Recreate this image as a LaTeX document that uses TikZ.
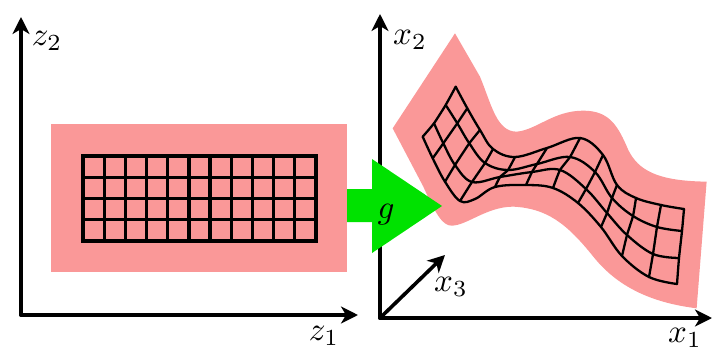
\documentclass[tikz,border=0pt]{standalone}
\usetikzlibrary{arrows.meta}
\definecolor{pinkfill}{RGB}{250,152,152}
\definecolor{arrowgreen}{RGB}{0,226,0}
\tikzset{
  axis/.style={line width=3.6pt,-{Stealth[length=17pt,width=17pt,inset=5pt]},line cap=round},
  lbl/.style={inner sep=0pt},
  gridline/.style={line width=3.3pt,black},
  wgrid/.style={line width=2.3pt,black,line join=round,line cap=round},
}
\newcommand{\rowline}[1]{\draw[wgrid] plot[smooth,tension=0.6] coordinates {#1};}
\newcommand{\colline}[1]{\draw[wgrid] plot[smooth,tension=0.3] coordinates {#1};}
\newcommand{\lmath}[1]{\scalebox{3.3}{$#1$}}
\begin{document}
\begin{tikzpicture}[x=1pt,y=-1pt]
\useasboundingbox (0,0) rectangle (712,351);
% left panel
\fill[pinkfill] (51,124) rectangle (347,272);
\draw[gridline] (83,156) rectangle (316,241);
\foreach \i in {1,...,10} \draw[gridline] ({83+\i*233/11},156) -- ({83+\i*233/11},241);
\foreach \j in {1,2,3} \draw[gridline] (83,{156+\j*85/4}) -- (316,{156+\j*85/4});
\coordinate (zo) at (21,315);
\coordinate (zy) at (21,17);
\coordinate (zx) at (358,315);
\draw[axis] (zo) -- (zy);
\draw[axis] (zo) -- (zx);
\node[lbl] (zt) at (47,41) {\lmath{z_2}};
\node[lbl] (zb) at (324,336) {\lmath{z_1}};
% right panel axes
\coordinate (xo) at (380,318);
\coordinate (xy) at (380,14);
\coordinate (xx) at (712,318);
\coordinate (xz) at (445,255);
\draw[axis] (xo) -- (xy);
\draw[axis] (xo) -- (xx);
\draw[axis] (xo) -- (xz);
\node[lbl] (xt) at (410,40) {\lmath{x_2}};
\node[lbl] (xr) at (685,338) {\lmath{x_1}};
\node[lbl] (xd) at (451,287) {\lmath{x_3}};
% manifold
\begin{scope}[x=0.3333pt,y=-0.3333pt,shift={(380pt,-20pt)}]
\fill[pinkfill] (225,40) -- (300,170)
  .. controls (335,255) and (350,335) .. (410,335)
  .. controls (470,330) and (520,272) .. (610,272)
  .. controls (690,272) and (715,320) .. (745,390)
  .. controls (775,450) and (830,483) .. (980,485)
  -- (950,865)
  .. controls (830,850) and (720,810) .. (640,710)
  .. controls (560,610) and (500,565) .. (400,560)
  .. controls (320,560) and (260,617) .. (215,617)
  .. controls (190,617) and (170,590) .. (130,500)
  -- (38,325) -- cycle;
\end{scope}
% warped grid: four long curves
\rowline{(455.7,86.7) (467.3,108.3) (480,130) (493,149) (515,157) (547,148) (580,138) (603,155) (617,185) (636,198) (661,205) (684,209)}
\rowline{(445.7,105) (457.3,123.3) (469.3,143.3) (485,163) (508,170) (537,164) (570,157) (595,172) (612,198) (633,216) (657,227) (682,231)}
\rowline{(434,123.3) (443.3,143.3) (455,165) (472,182) (500,177) (532,172) (560,170) (586,189) (607,213) (627,235) (653,254) (679,258)}
\rowline{(422.7,136.7) (432.7,158.3) (445,181.7) (460,201) (475,199) (495,187) (526,185) (553,188) (578,203) (601,227) (622,256) (649,277) (677,284)}
% warped grid: twelve cross curves
\colline{(455.7,86.7) (445.7,105) (434,123.3) (422.7,136.7)}
\colline{(467.3,108.3) (457.3,123.3) (443.3,143.3) (432.7,158.3)}
\colline{(480,130) (469.3,143.3) (455,165) (445,181.7)}
\colline{(493,149) (485,163) (472,182) (460,201)}
\colline{(515,157) (508,170) (500,177) (495,187)}
\colline{(547,148) (537,164) (532,172) (526,185)}
\colline{(580,138) (570,157) (560,170) (553,188)}
\colline{(603,155) (595,172) (586,189) (578,203)}
\colline{(617,185) (612,198) (607,213) (601,227)}
\colline{(636,198) (633,216) (627,235) (622,256)}
\colline{(661,205) (657,227) (653,254) (649,277)}
\colline{(684,209) (682,231) (679,258) (677,284)}
% green arrow
\fill[arrowgreen] (347,189) -- (372,189) -- (372,159) -- (442,206) -- (372,253) -- (372,222) -- (347,222) -- cycle;
\node[lbl] (gl) at (386,215) {\lmath{g}};
\end{tikzpicture}
\end{document}
